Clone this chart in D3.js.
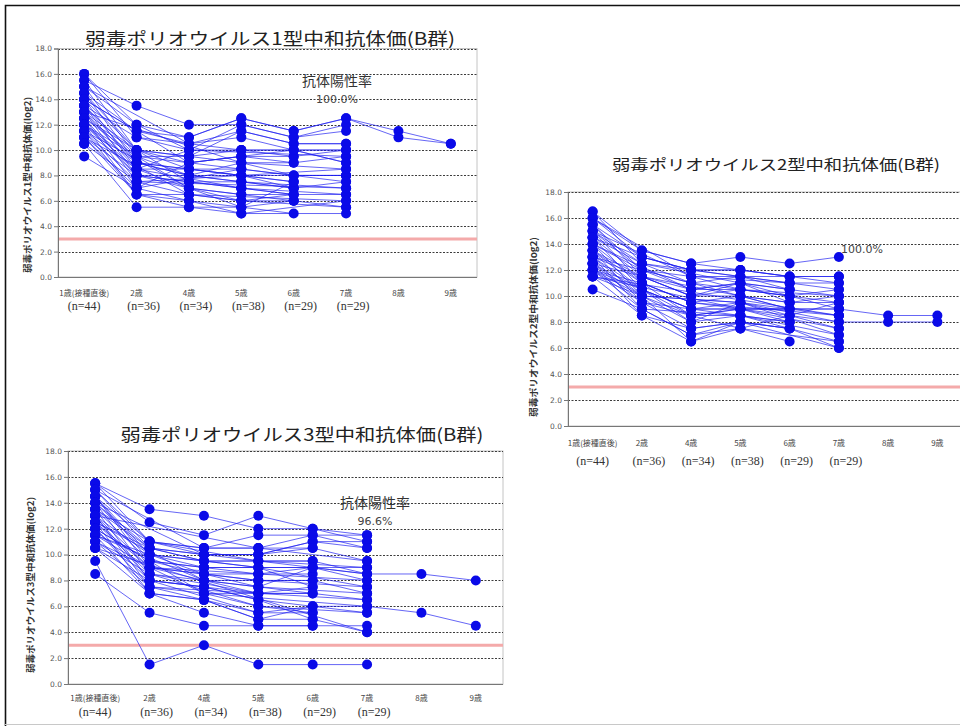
<!DOCTYPE html>
<html>
<head>
<meta charset="utf-8">
<script src="https://cdn.jsdelivr.net/npm/d3@7"></script>
<style>
  body { margin: 0; background: #fff; }
  svg { display: block; }
</style>
</head>
<body>
<svg id="chart" width="960" height="726"></svg>
<script>
// Age groups on the x axis and the number of children tested at each age
const categories = ["1歳(接種直後)", "2歳", "4歳", "5歳", "6歳", "7歳", "8歳", "9歳"];
const sampleSizes = ["(n=44)", "(n=36)", "(n=34)", "(n=38)", "(n=29)", "(n=29)"];
const yTicks = [0, 2, 4, 6, 8, 10, 12, 14, 16, 18];
const cutoff = 3.0; // positivity threshold

const titles = [
  "弱毒ポリオウイルス1型中和抗体価(B群)",
  "弱毒ポリオウイルス2型中和抗体価(B群)",
  "弱毒ポリオウイルス3型中和抗体価(B群)"
];
const yTitles = [
  "弱毒ポリオウイルス1型中和抗体価(log2)",
  "弱毒ポリオウイルス2型中和抗体価(log2)",
  "弱毒ポリオウイルス3型中和抗体価(log2)"
];
const rateCaption = "抗体陽性率";
const positiveRates = ["100.0%", "100.0%", "96.6%"];

// One row per child: titres at 1歳, 2歳, 4歳, 5歳, 6歳, 7歳, 8歳, 9歳 (null = not tested)
const type1Subjects = [
  [16.0, 12.0, 11.0, 12.5, 11.5, 12.5, 11.5, 10.5],
  [16.0, 11.0, null, 10.0, null, 10.0, null, null],
  [15.5, 13.5, 12.0, 12.0, 11.0, 12.0, null, null],
  [15.5, 10.0, 9.5, 9.0, 9.0, null, null, null],
  [15.0, null, 10.5, 11.5, 10.5, 10.5, null, null],
  [15.0, 12.0, 10.0, null, null, 9.5, null, null],
  [15.0, 9.5, null, 8.5, null, null, null, null],
  [14.5, 11.5, 11.0, 12.5, 11.5, 12.5, 11.0, 10.5],
  [14.5, 10.0, 8.5, 8.0, 7.5, null, null, null],
  [14.5, 9.0, 8.0, 7.5, null, 7.0, null, null],
  [14.0, 11.5, 10.5, 11.0, 10.0, 10.0, null, null],
  [14.0, null, 9.0, 9.5, 9.5, null, null, null],
  [14.0, 8.5, null, 7.0, null, 6.5, null, null],
  [14.0, 10.0, 9.5, 10.0, 10.0, 9.0, null, null],
  [13.5, 9.5, 8.0, null, null, 8.0, null, null],
  [13.5, 8.0, 7.5, 7.0, 6.5, null, null, null],
  [13.5, 11.0, 10.0, 12.0, 11.0, 11.5, null, null],
  [13.5, 9.0, 8.5, 8.0, 7.5, null, null, null],
  [13.0, null, null, 9.0, null, 8.5, null, null],
  [13.0, 8.5, 7.0, 6.5, 6.0, null, null, null],
  [13.0, 10.0, 9.0, 9.5, 9.0, 9.5, null, null],
  [13.0, 7.5, 6.5, null, null, 6.0, null, null],
  [13.0, 9.0, 8.0, 7.5, 7.0, null, null, null],
  [12.5, 8.0, null, 6.0, null, 5.5, null, null],
  [12.5, 9.5, 9.5, 11.5, 10.5, 10.5, null, null],
  [12.5, null, 7.5, 7.0, 6.5, null, null, null],
  [12.5, 7.0, 6.0, 5.5, 6.0, 5.5, null, null],
  [12.0, 8.5, 8.5, 8.5, 8.0, 8.0, null, null],
  [12.0, 6.5, 5.5, 5.0, null, 5.0, null, null],
  [12.0, 9.0, null, 8.0, 7.0, null, null, null],
  [12.0, null, 7.0, 6.5, null, 6.5, null, null],
  [12.0, 8.0, 8.0, 9.0, 8.0, 7.5, null, null],
  [11.5, 7.5, null, null, null, 7.0, null, null],
  [11.5, 6.5, 6.5, 6.0, 6.0, null, null, null],
  [11.5, 8.5, 10.0, 10.0, 9.5, 10.0, null, null],
  [11.5, null, 7.0, 5.5, 5.0, null, null, null],
  [11.0, 7.0, null, 8.5, 8.0, 8.0, null, null],
  [11.0, 8.0, 7.5, 7.5, 7.0, 7.5, null, null],
  [11.0, 6.5, 6.0, 5.0, null, 6.0, null, null],
  [11.0, null, 6.5, 6.0, 6.5, null, null, null],
  [10.5, 7.5, null, null, null, 8.5, null, null],
  [10.5, 5.5, 5.5, 5.5, 7.5, null, null, null],
  [10.5, null, null, null, null, null, null, null],
  [9.5, 7.0, 9.0, 9.5, 10.0, 9.0, null, null]
];

const type2Subjects = [
  [16.5, 13.5, 12.5, 13.0, 12.5, 13.0, null, null],
  [16.5, 12.5, null, 11.5, 11.0, 10.5, null, null],
  [16.0, 13.0, 12.0, 12.0, 11.5, null, null, null],
  [16.0, null, 11.5, null, null, 11.5, null, null],
  [16.0, 13.5, 12.5, 12.0, 11.5, 11.0, null, null],
  [15.5, 12.0, 10.5, 11.0, 10.5, 10.0, null, null],
  [15.5, 13.0, 12.0, 11.5, 11.0, null, null, null],
  [15.5, 11.5, 10.0, 10.5, null, 9.5, null, null],
  [15.0, 12.5, null, 11.0, 10.0, 9.0, 8.5, 8.5],
  [15.0, 12.0, 11.0, 10.0, 9.5, null, null, null],
  [15.0, null, 11.5, 10.5, null, 10.0, null, null],
  [15.0, 11.0, 9.5, null, null, 8.5, null, null],
  [14.5, 13.0, 12.0, 12.0, 11.5, 11.5, null, null],
  [14.5, 11.5, null, 10.0, 9.0, null, null, null],
  [14.5, 10.5, 9.0, 9.5, 8.5, 8.0, 8.0, 8.0],
  [14.5, 12.5, 11.0, 11.5, 10.5, null, null, null],
  [14.0, 11.0, 8.5, 9.0, null, 7.5, null, null],
  [14.0, null, 10.5, 10.5, 10.0, null, null, null],
  [14.0, 10.0, null, 9.5, null, 8.5, null, null],
  [14.0, 12.0, 11.5, null, 11.0, 11.0, null, null],
  [13.5, 11.5, 10.0, 10.0, 9.0, null, null, null],
  [13.5, 10.5, 8.0, 8.5, null, 7.0, null, null],
  [13.5, 9.5, 7.5, 8.0, 7.5, null, null, null],
  [13.5, 11.0, 9.5, 9.0, 8.5, 9.5, null, null],
  [13.0, null, 10.0, 11.0, 10.5, null, null, null],
  [13.0, 10.0, null, 9.5, null, 8.0, null, null],
  [13.0, 12.0, 11.0, 10.5, 10.0, 10.5, null, null],
  [13.0, 9.0, 7.0, 8.0, 7.5, null, null, null],
  [13.0, 10.5, 9.0, null, null, 9.0, null, null],
  [12.5, 11.5, 10.5, 11.0, 9.5, 10.0, null, null],
  [12.5, 9.5, null, 8.5, null, 6.5, null, null],
  [12.5, null, 8.5, 9.0, 8.0, null, null, null],
  [12.5, 10.0, 6.5, 7.5, 6.5, null, null, null],
  [12.5, 8.5, 7.5, 8.0, null, 6.0, null, null],
  [12.0, 11.0, 9.5, 10.0, 9.5, 9.5, null, null],
  [12.0, 9.0, null, 8.5, 8.0, null, null, null],
  [12.0, null, 8.0, 9.5, null, 7.0, null, null],
  [12.0, 10.5, 9.0, null, 9.0, null, null, null],
  [12.0, 9.5, null, 7.5, null, 6.5, null, null],
  [11.5, 8.5, 6.5, 8.0, 7.5, 6.0, null, null],
  [11.5, null, null, 9.0, null, 9.0, null, null],
  [11.5, 10.0, 8.5, 8.5, 8.0, null, null, null],
  [11.5, null, null, null, null, 8.5, null, null],
  [10.5, 9.0, 7.0, 7.5, 8.5, 7.5, null, null]
];

const type3Subjects = [
  [15.5, 13.5, 13.0, 12.0, 12.0, 11.5, null, null],
  [15.5, 11.0, null, 9.5, null, 9.0, null, null],
  [15.5, 12.5, 11.5, 13.0, 12.0, 11.0, null, null],
  [15.0, null, 10.5, 10.5, 10.5, null, null, null],
  [15.0, 10.5, 10.0, null, null, 8.5, null, null],
  [15.0, 11.0, 10.5, 11.5, 11.5, 11.5, null, null],
  [14.5, 10.0, null, 9.0, null, 7.5, null, null],
  [14.5, 9.5, 9.0, 8.5, 8.5, null, null, null],
  [14.5, 11.0, 10.0, 10.0, 11.0, 11.0, null, null],
  [14.5, 9.0, 8.5, 8.0, null, 7.5, null, null],
  [14.0, 10.5, 9.5, 9.5, 9.5, null, null, null],
  [14.0, null, 10.0, 10.0, 11.0, 10.5, null, null],
  [14.0, 8.5, null, 7.0, null, null, null, null],
  [14.0, 10.0, 9.0, null, null, 9.0, null, null],
  [13.5, 11.0, 10.5, 10.5, 11.5, 10.5, null, null],
  [13.5, 8.0, 7.5, 7.0, 7.0, null, null, null],
  [13.5, 9.5, 8.5, 7.5, null, 6.5, null, null],
  [13.5, 10.5, 9.5, 9.0, 7.5, null, null, null],
  [13.0, null, null, 10.5, null, 9.5, null, null],
  [13.0, 9.0, 8.0, 8.0, 8.0, null, null, null],
  [13.0, 7.5, 7.0, null, null, 6.0, null, null],
  [13.0, 10.0, 9.5, 9.5, 9.5, 8.5, 8.5, 8.0],
  [13.0, 8.0, 7.5, 6.5, 5.0, null, null, null],
  [12.5, 9.0, null, 8.5, null, 8.0, null, null],
  [12.5, 7.0, 6.5, 5.5, 5.5, null, null, null],
  [12.5, null, 8.0, 7.5, null, 7.0, null, null],
  [12.5, 10.5, 10.0, 10.0, 10.5, 9.5, null, null],
  [12.5, 8.5, 8.0, 7.5, 9.0, null, null, null],
  [12.0, 9.5, 9.0, 9.0, 9.0, 8.0, null, null],
  [12.0, 7.5, null, null, null, 6.5, null, null],
  [12.0, null, 7.0, 6.0, 5.5, null, null, null],
  [12.0, 8.0, 7.5, 6.5, null, 5.5, null, null],
  [11.5, 10.0, 8.5, 8.5, 9.0, 8.5, null, null],
  [11.5, 7.0, 6.5, 5.0, 6.0, null, null, null],
  [11.5, 9.0, null, 8.0, 8.0, 7.0, null, null],
  [11.5, null, 8.0, 7.0, 7.5, null, null, null],
  [11.0, 8.5, null, 6.0, null, 5.5, null, null],
  [11.0, null, 7.0, null, 7.0, null, null, null],
  [11.0, 7.5, 6.5, 5.0, 5.0, 4.0, null, null],
  [10.5, 8.0, null, 5.5, 6.0, 6.0, 5.5, 4.5],
  [10.5, null, null, null, null, 4.0, null, null],
  [10.5, 7.0, 5.5, 4.5, 4.5, null, null, null],
  [9.5, 1.5, 3.0, 1.5, 1.5, 1.5, null, null],
  [8.5, 5.5, 4.5, 4.5, 4.5, 4.5, null, null]
];

// Page layout of the three charts
const panels = [
  {
    rows: type1Subjects, title: titles[0], yTitle: yTitles[0], rate: positiveRates[0], caption: true,
    left: 58, right: 477, top: 48.5, bottom: 277,
    titleX: 270, titleY: 45, titleW: 370, titleSize: 17,
    yTitleX: 31, yTitleY: 185, yTitleW: 176, row1Dy: 19, row2Dy: 33,
    rateX: 337, captionY: 86, rateY: 103, rateAnchor: "middle"
  },
  {
    rows: type2Subjects, title: titles[1], yTitle: yTitles[1], rate: positiveRates[1], caption: false,
    left: 568, right: 962, top: 192, bottom: 426,
    titleX: 776, titleY: 170, titleW: 328, titleSize: 15,
    yTitleX: 537, yTitleY: 327, yTitleW: 180, row1Dy: 20, row2Dy: 39,
    rateX: 841, captionY: null, rateY: 253, rateAnchor: "start"
  },
  {
    rows: type3Subjects, title: titles[2], yTitle: yTitles[2], rate: positiveRates[2], caption: true,
    left: 68, right: 503, top: 451, bottom: 684,
    titleX: 302, titleY: 441, titleW: 363, titleSize: 17,
    yTitleX: 34, yTitleY: 585, yTitleW: 176, row1Dy: 17, row2Dy: 32,
    rateX: 375, captionY: 508, rateY: 525, rateAnchor: "middle"
  }
];

const svg = d3.select("#chart");
const jpFont = "'Noto Sans CJK JP', 'Noto Sans', sans-serif";

// outer frame
svg.append("rect").attr("x", 0).attr("y", 0).attr("width", 960).attr("height", 726).attr("fill", "#fff");
svg.append("path")
  .attr("d", "M5.5,726 V5.5 H960")
  .attr("fill", "none").attr("stroke", "#111").attr("stroke-width", 1.6);
svg.append("line").attr("x1", 5).attr("x2", 960).attr("y1", 724.5).attr("y2", 724.5)
  .attr("stroke", "#c8c8c8").attr("stroke-width", 1);

panels.forEach(p => {
  const g = svg.append("g");

  const x = d3.scaleBand().domain(categories).range([p.left, p.right]).padding(0);
  const y = d3.scaleLinear().domain([0, 18]).range([p.bottom, p.top]);
  const cx = c => x(c) + x.bandwidth() / 2;

  // plot area
  g.append("rect")
    .attr("x", p.left).attr("y", p.top)
    .attr("width", p.right - p.left).attr("height", p.bottom - p.top)
    .attr("fill", "#fff").attr("stroke", "#c4c4c4").attr("stroke-width", 1);

  // horizontal gridlines
  g.selectAll(".grid").data(yTicks.filter(t => t > 0)).join("line")
    .attr("x1", p.left).attr("x2", p.right)
    .attr("y1", d => Math.round(y(d)) + 0.5).attr("y2", d => Math.round(y(d)) + 0.5)
    .attr("stroke", "#3c3c3c").attr("stroke-width", 1).attr("stroke-dasharray", "2,1.5");

  // positivity threshold
  g.append("line")
    .attr("x1", p.left + 1).attr("x2", p.right)
    .attr("y1", y(cutoff)).attr("y2", y(cutoff))
    .attr("stroke", "#f4aaaa").attr("stroke-width", 3);

  // y axis
  const yAxis = d3.axisLeft(y).tickValues(yTicks).tickSize(4).tickFormat(d3.format(".1f"));
  const ya = g.append("g").attr("transform", `translate(${p.left},0)`).call(yAxis);
  ya.select(".domain").attr("stroke", "#777");
  ya.selectAll(".tick line").attr("stroke", "#777");
  ya.selectAll(".tick text")
    .attr("x", -6).attr("font-family", "'DejaVu Sans', sans-serif")
    .attr("font-size", 7.5).attr("fill", "#555");

  // x axis baseline
  g.append("line")
    .attr("x1", p.left).attr("x2", p.right)
    .attr("y1", p.bottom + 0.5).attr("y2", p.bottom + 0.5)
    .attr("stroke", "#777").attr("stroke-width", 1);

  // age labels and sample sizes
  g.selectAll(".agelabel").data(categories).join("text")
    .attr("x", d => cx(d)).attr("y", p.bottom + p.row1Dy)
    .attr("text-anchor", "middle").attr("font-family", jpFont)
    .attr("font-size", 8).attr("fill", "#444")
    .text(d => d);
  g.selectAll(".nlabel").data(sampleSizes).join("text")
    .attr("x", (d, i) => cx(categories[i]) + (i === 0 ? 0 : 7)).attr("y", p.bottom + p.row2Dy)
    .attr("text-anchor", "middle").attr("font-family", "'Liberation Serif', serif")
    .attr("font-size", 12).attr("fill", "#333")
    .text(d => d);

  // y axis title
  g.append("text")
    .attr("transform", `translate(${p.yTitleX},${p.yTitleY}) rotate(-90)`)
    .attr("text-anchor", "middle").attr("font-family", jpFont)
    .attr("font-size", 9).attr("font-weight", "bold").attr("fill", "#333")
    .attr("textLength", p.yTitleW).attr("lengthAdjust", "spacingAndGlyphs")
    .text(p.yTitle);

  // chart title
  g.append("text")
    .attr("x", p.titleX).attr("y", p.titleY)
    .attr("text-anchor", "middle").attr("font-family", jpFont)
    .attr("font-size", p.titleSize).attr("fill", "#222")
    .attr("textLength", p.titleW).attr("lengthAdjust", "spacingAndGlyphs")
    .text(p.title);

  // individual trajectories
  const line = d3.line().x(d => cx(d.age)).y(d => y(d.v));
  const tracks = p.rows.map(r => r.map((v, i) => ({ age: categories[i], v })).filter(d => d.v !== null));
  g.append("g").selectAll("path").data(tracks).join("path")
    .attr("d", line)
    .attr("fill", "none").attr("stroke", "#1c1cf0")
    .attr("stroke-width", 0.8).attr("stroke-opacity", 0.85);

  g.append("g").selectAll("circle").data(tracks.flat()).join("circle")
    .attr("cx", d => cx(d.age)).attr("cy", d => y(d.v)).attr("r", 5)
    .attr("fill", "#0a0ae8");

  // positivity rate annotation
  if (p.caption) {
    g.append("text")
      .attr("x", p.rateX).attr("y", p.captionY)
      .attr("text-anchor", "middle").attr("font-family", jpFont)
      .attr("font-size", 14).attr("fill", "#333")
      .text(rateCaption);
  }
  g.append("text")
    .attr("x", p.rateX).attr("y", p.rateY)
    .attr("text-anchor", p.rateAnchor).attr("font-family", "'DejaVu Sans', sans-serif")
    .attr("font-size", 11).attr("fill", "#444")
    .text(p.rate);
});
</script>
</body>
</html>
